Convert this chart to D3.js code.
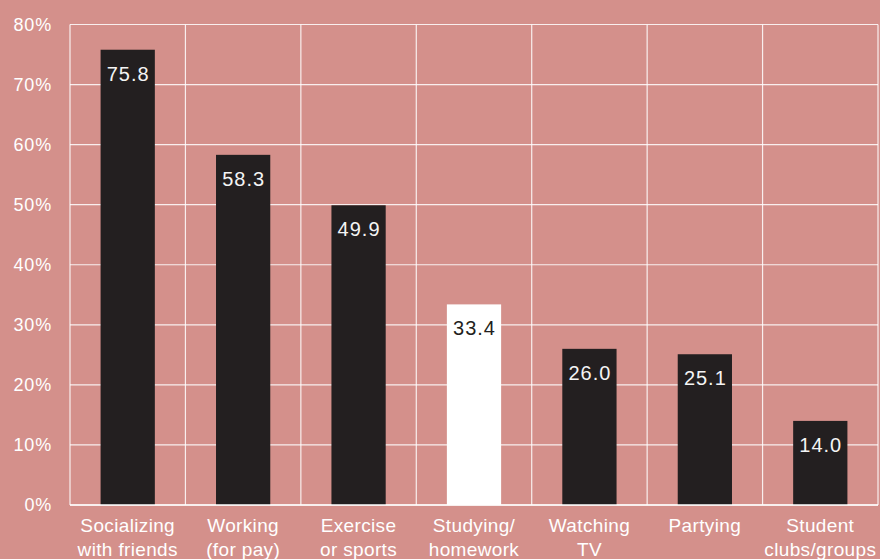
<!DOCTYPE html>
<html>
<head>
<meta charset="utf-8">
<script src="https://cdn.jsdelivr.net/npm/d3@7"></script>
<style>
  html, body { margin: 0; padding: 0; background: #d4908b; }
  svg { display: block; }
  text { font-family: "Liberation Sans", Arial, sans-serif; }
</style>
</head>
<body>
<svg id="chart" width="880" height="559"></svg>
<script>
// Share of respondents per activity (%)
const categories = [
  ["Socializing", "with friends"],
  ["Working", "(for pay)"],
  ["Exercise", "or sports"],
  ["Studying/", "homework"],
  ["Watching", "TV"],
  ["Partying"],
  ["Student", "clubs/groups"]
];
const values = [75.8, 58.3, 49.9, 33.4, 26.0, 25.1, 14.0];
const highlighted = [false, false, false, true, false, false, false];
const yTicks = [0, 10, 20, 30, 40, 50, 60, 70, 80];

const width = 880, height = 559;
const margin = { top: 24.5, right: 2, bottom: 54, left: 70 };

const svg = d3.select("#chart");
svg.append("rect").attr("width", width).attr("height", height).attr("fill", "#d4908b");

const keys = categories.map((c, i) => i);
const x = d3.scaleBand()
  .domain(keys)
  .range([margin.left, width - margin.right])
  .paddingInner(0.53)
  .paddingOuter(0.265);

const y = d3.scaleLinear()
  .domain([0, 80])
  .range([height - margin.bottom, margin.top]);

const gridColor = "rgba(255,255,255,0.85)";

// horizontal gridlines
svg.append("g")
  .selectAll("line")
  .data(yTicks)
  .join("line")
  .attr("x1", margin.left)
  .attr("x2", width - margin.right)
  .attr("y1", d => y(d))
  .attr("y2", d => y(d))
  .attr("stroke", gridColor)
  .attr("stroke-width", 1.2);

// vertical separators between categories
const bounds = d3.range(categories.length + 1).map(i => margin.left + i * (width - margin.right - margin.left) / categories.length);
svg.append("g")
  .selectAll("line")
  .data(bounds)
  .join("line")
  .attr("x1", d => d)
  .attr("x2", d => d)
  .attr("y1", y(80))
  .attr("y2", y(0))
  .attr("stroke", gridColor)
  .attr("stroke-width", 1.2);

// y axis labels
const yAxis = d3.axisLeft(y).tickValues(yTicks).tickFormat(d => d + "%").tickSize(0).tickPadding(18);
const gy = svg.append("g").attr("transform", `translate(${margin.left},0)`).call(yAxis);
gy.select(".domain").remove();
gy.selectAll("text")
  .attr("fill", "#ffffff")
  .style("font-size", "18px")
  .style("letter-spacing", "0.8px")
  .style("font-family", "'Liberation Sans', Arial, sans-serif");

// bars
svg.append("g")
  .selectAll("rect")
  .data(values)
  .join("rect")
  .attr("x", (d, i) => x(i))
  .attr("width", x.bandwidth())
  .attr("y", d => y(d))
  .attr("height", d => y(0) - y(d))
  .attr("fill", (d, i) => highlighted[i] ? "#ffffff" : "#231f20");

// bottom baseline
svg.append("line")
  .attr("x1", margin.left).attr("x2", width - margin.right)
  .attr("y1", y(0)).attr("y2", y(0))
  .attr("stroke", "#ffffff").attr("stroke-width", 1.5);

// value labels
svg.append("g")
  .selectAll("text")
  .data(values)
  .join("text")
  .attr("x", (d, i) => x(i) + x.bandwidth() / 2 + 0.5)
  .attr("y", d => y(d) + 31)
  .attr("text-anchor", "middle")
  .attr("fill", (d, i) => highlighted[i] ? "#231f20" : "#f4f4f4")
  .style("font-size", "20px")
  .style("letter-spacing", "1px")
  .text(d => d.toFixed(1));

// category labels
const catG = svg.append("g")
  .selectAll("text")
  .data(categories)
  .join("text")
  .attr("x", (d, i) => x(i) + x.bandwidth() / 2)
  .attr("y", 532)
  .attr("text-anchor", "middle")
  .attr("fill", "#ffffff")
  .style("font-size", "19px")
  .style("letter-spacing", "0.35px");
catG.selectAll("tspan")
  .data(d => d)
  .join("tspan")
  .attr("x", function() { return d3.select(this.parentNode).attr("x"); })
  .attr("dy", (d, i) => i === 0 ? 0 : 23.5)
  .text(d => d);
</script>
</body>
</html>
